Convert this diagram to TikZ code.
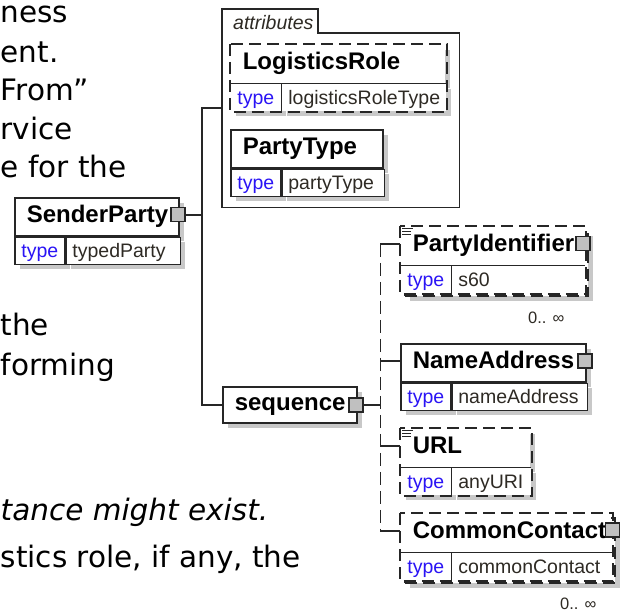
\documentclass[tikz,border=0pt]{standalone}
\usepackage{fontspec}
\setmainfont{Liberation Sans}
\newfontfamily\parafamily{DejaVu Sans}
\usepackage{tikz}
\usetikzlibrary{shadows,positioning}
\definecolor{linedark}{HTML}{262626}
\definecolor{typeblue}{HTML}{2A14F5}
\definecolor{valuedark}{HTML}{2E2A24}
\definecolor{shadowgray}{HTML}{C8C8C8}
\definecolor{plusgray}{HTML}{C0C0C0}
\newcommand\elnamefont{\fontsize{24}{28}\selectfont\bfseries}
\newcommand\eltypefont{\fontsize{19.5}{23}\selectfont}
\newcommand\occfont{\fontsize{16.5}{20}\selectfont}
\newcommand\parfont{\parafamily\fontsize{29.5}{36}\selectfont}
\tikzset{
  boxline/.style={draw=linedark, line width=1.6pt},
  shadowed/.style={drop shadow={shadow xshift=5pt, shadow yshift=-5pt, fill=shadowgray, opacity=1}},
  optional/.style={dash pattern=on 12pt off 6pt},
  elhead/.style={boxline, fill=white, anchor=north west, minimum height=38pt, inner xsep=12pt, inner ysep=0pt, text height=17pt, text depth=5pt, align=left, font=\elnamefont, text=black},
  elkey/.style={boxline, fill=white, anchor=north west, minimum width=50pt, minimum height=27pt, inner sep=0pt, text height=16pt, text depth=2pt, font=\eltypefont, text=typeblue},
  elval/.style={boxline, fill=white, anchor=north west, minimum height=27pt, inner xsep=6pt, inner ysep=0pt, text height=16pt, text depth=2pt, align=left, font=\eltypefont, text=valuedark},
  backbox/.style={boxline, optional, fill=white, anchor=north west, inner sep=0pt},
  plusbox/.style={draw=linedark, line width=1.4pt, fill=plusgray, minimum size=14pt, inner sep=0pt},
  conn/.style={draw=linedark, line width=1.6pt},
  docmark/.style={draw=linedark, line width=0.9pt},
  occ/.style={font=\occfont, text=valuedark, anchor=base east, inner sep=0pt},
  partext/.style={font=\parfont, anchor=base west, inner sep=0pt},
}

\begin{document}
\begin{tikzpicture}[x=1pt, y=-1pt]
    \useasboundingbox (0,0) rectangle (621,612);
    \clip (0,0) rectangle (621,612);
    \fill[white] (0,0) rectangle (621,612);

    % Text of the page behind the diagram
    \node[partext] (p1) at (0.5,23) {ness};
    \node[partext] (p2) at (0.5,63) {ent.};
    \node[partext] (p3) at (0.5,101) {From”};
    \node[partext] (p4) at (0.5,140) {rvice};
    \node[partext] (p5) at (0.5,178) {e for the};
    \node[partext] (p6) at (0.5,335) {the};
    \node[partext] (p7) at (0.5,375) {forming};
    \node[partext, font=\parfont\itshape] (p8) at (0.5,520) {tance might exist.};
    \node[partext] (p9) at (0.5,567) {stics role, if any, the};

    % SenderParty
    \node[elhead, shadowed, text width=140pt] (sp) at (14,197) {SenderParty};
    \node[elkey, shadowed] (spk) at (sp.south west) {type};
    \node[elval, shadowed, text width=102pt] (spv) at (spk.north east) {typedParty};
    \node[plusbox] (spsq) at ([xshift=-1.5pt,yshift=2pt]sp.east) {};

    % Attributes group
    \node[anchor=north west, minimum width=237pt, minimum height=198pt, inner sep=0pt] (attr) at (222,9) {};
    \draw[boxline] (attr.south west) -- (attr.north west) -- ++(96,0) -- ++(0,24)
        -- ([yshift=-24pt]attr.north east) -- (attr.south east) -- cycle;
    \node[font={\eltypefont\itshape}, text=valuedark, anchor=base west, inner sep=0pt] (attrlabel)
        at ([xshift=11pt,yshift=-21pt]attr.north west) {attributes};

    % LogisticsRole (optional)
    \node[elhead, shadowed, draw=none, text width=190pt] (lr) at (230,44) {LogisticsRole};
    \node[elkey, shadowed, draw=none] (lrk) at (lr.south west) {type};
    \node[elval, shadowed, draw=none, text width=152pt] (lrv) at (lrk.north east) {logisticsRoleType};
    \draw[boxline] (lr.south west) -- (lr.south east) (lrk.north east) -- (lrk.south east);
    \draw[boxline, optional] (lr.north west) rectangle (lrv.south east);

    % PartyType
    \node[elhead, shadowed, text width=128pt] (pt) at (230,129) {PartyType};
    \node[elkey, shadowed] (ptk) at (pt.south west) {type};
    \node[elval, shadowed, text width=90pt] (ptv) at (ptk.north east) {partyType};

    % sequence
    \node[elhead, shadowed, minimum height=36pt, text width=110pt] (seq) at (222,386) {sequence};
    \node[plusbox] (seqsq) at ([xshift=-1.5pt]seq.east) {};

    % PartyIdentifier (optional, repeated)
    \node[backbox, shadowed, minimum width=183pt, minimum height=65pt] (pidback) at (404,230) {};
    \node[elhead, draw=none, text width=159pt] (pid) at (400,226) {PartyIdentifier};
    \node[elkey, draw=none] (pidk) at (pid.south west) {type};
    \node[elval, draw=none, text width=121pt] (pidv) at (pidk.north east) {s60};
    \draw[boxline] (pid.south west) -- (pid.south east) (pidk.north east) -- (pidk.south east);
    \draw[boxline, optional] (pid.north west) rectangle (pidv.south east);
    \draw[docmark] ([shift={(2pt,-2.5pt)}]pid.north west) -- ++(11,0)
        ([shift={(2pt,-5.5pt)}]pid.north west) -- ++(9,0)
        ([shift={(2pt,-8.5pt)}]pid.north west) -- ++(9,0);
    \node[plusbox] (pidsq) at ([xshift=-1.5pt,yshift=2pt]pid.east) {};
    \node[occ] (pidocc) at ([xshift=-24pt,yshift=-27pt]pidback.south east) {0.. ∞};

    % NameAddress
    \node[elhead, shadowed, text width=161pt] (na) at (400,343) {NameAddress};
    \node[elkey, shadowed] (nak) at (na.south west) {type};
    \node[elval, shadowed, text width=123pt] (nav) at (nak.north east) {nameAddress};
    \node[plusbox] (nasq) at ([xshift=-1.5pt,yshift=2pt]na.east) {};

    % URL (optional)
    \node[elhead, shadowed, draw=none, text width=105pt] (url) at (400,428) {URL};
    \node[elkey, shadowed, draw=none] (urlk) at (url.south west) {type};
    \node[elval, shadowed, draw=none, text width=67pt] (urlv) at (urlk.north east) {anyURI};
    \draw[boxline] (url.south west) -- (url.south east) (urlk.north east) -- (urlk.south east);
    \draw[boxline, optional] (url.north west) rectangle (urlv.south east);
    \draw[docmark] ([shift={(2pt,-2.5pt)}]url.north west) -- ++(11,0)
        ([shift={(2pt,-5.5pt)}]url.north west) -- ++(9,0)
        ([shift={(2pt,-8.5pt)}]url.north west) -- ++(9,0);

    % CommonContact (optional, repeated)
    \node[backbox, shadowed, minimum width=210pt, minimum height=65pt] (ccback) at (404,517) {};
    \node[elhead, draw=none, text width=186pt] (cc) at (400,513) {CommonContact};
    \node[elkey, draw=none] (cck) at (cc.south west) {type};
    \node[elval, draw=none, text width=148pt] (ccv) at (cck.north east) {commonContact};
    \draw[boxline] (cc.south west) -- (cc.south east) (cck.north east) -- (cck.south east);
    \draw[boxline, optional] (cc.north west) rectangle (ccv.south east);
    \node[plusbox] (ccsq) at ([xshift=1pt,yshift=3pt]cc.east) {};
    \node[occ] (ccocc) at ([xshift=-19pt,yshift=-26pt]ccback.south east) {0.. ∞};

    % Connectors
    \coordinate (spine) at ([xshift=16pt]spsq.east);
    \draw[conn] (spsq.east) -- (spine);
    \draw[conn] (attr.west) -- (attr.west -| spine) -- (seq.west -| spine) -- (seq.west);

    \coordinate (choice) at ([xshift=16.5pt]seqsq.east);
    \coordinate (pidin) at ([yshift=2pt]pid.west);
    \coordinate (nain) at ([yshift=2pt]na.west);
    \coordinate (urlin) at ([yshift=2pt]url.west);
    \coordinate (ccin) at ([yshift=2pt]cc.west);
    \draw[conn] (seqsq.east) -- (choice);
    \draw[conn, dash pattern=on 13pt off 6pt] (choice |- pidin) -- (choice |- ccin);
    \foreach \branch in {pidin, nain, urlin, ccin} {
        \draw[conn] (choice |- \branch) -- (\branch);
    }
\end{tikzpicture}
\end{document}
